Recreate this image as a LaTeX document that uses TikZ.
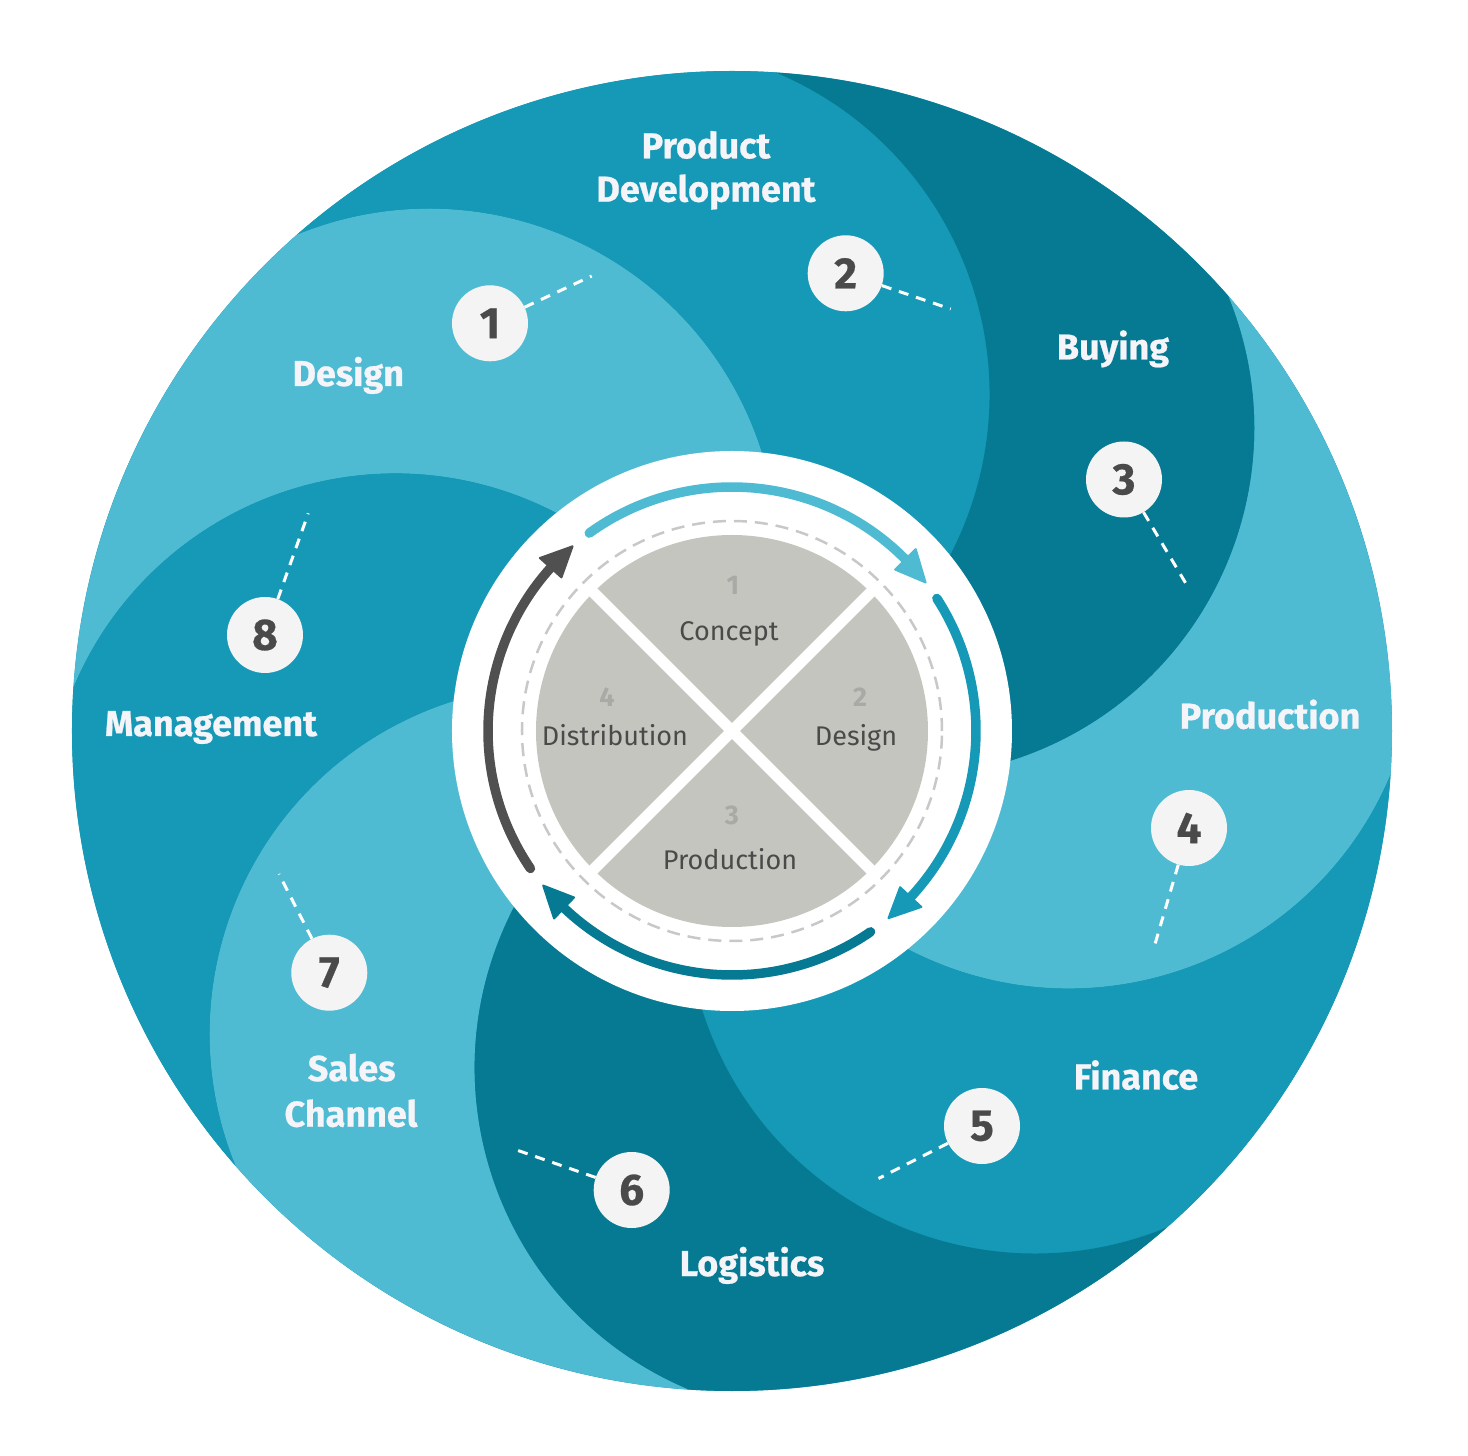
\documentclass[tikz,border=0pt]{standalone}
\usepackage{fontspec}
\setmainfont{Fira Sans}
\newfontfamily\heavyfont{Fira Sans}[BoldFeatures={FakeBold=0.6}]
\usetikzlibrary{arrows.meta}
\definecolor{cLight}{HTML}{4EBBD3}
\definecolor{cMid}{HTML}{1699B6}
\definecolor{cDark}{HTML}{067A92}
\definecolor{cGrayDisk}{HTML}{C5C5BF}
\definecolor{cDash}{HTML}{C8C8C8}
\definecolor{cText}{HTML}{4A4A4A}
\definecolor{cNum}{HTML}{A9A9A5}
\definecolor{cBadge}{HTML}{F4F4F4}
\definecolor{cArrowGray}{HTML}{505050}
\definecolor{cLabel}{HTML}{F5F4F8}
\pgfmathsetmacro\outerR{660}
\pgfmathsetmacro\swA{349}
\pgfmathsetmacro\swD{acos(\outerR/(2*\swA))}
\newcommand{\swirlpart}[2]{%
  \fill[#2] (0,0) arc[start angle={#1-180}, end angle={#1-2*\swD}, radius=\swA]
    arc[start angle={#1-\swD}, end angle={#1+45-\swD}, radius=\outerR]
    arc[start angle={#1+45-2*\swD}, end angle={#1+45-180}, radius=\swA] -- cycle;}
\begin{document}
\begin{tikzpicture}[x=1pt,y=1pt,
  outer label/.style={text=cLabel, font=\heavyfont\fontsize{36}{43}\selectfont\bfseries, anchor=base, inner sep=0pt},
  badge/.style={circle, fill=cBadge, minimum size=76pt, inner sep=0pt, text=cText, font=\heavyfont\fontsize{44}{44}\selectfont\bfseries},
  leader/.style={draw=white, line width=3pt, dash pattern=on 10pt off 8pt},
  quad text/.style={text=cText, font=\fontsize{27}{30}\selectfont, anchor=base, inner sep=0pt},
  quad num/.style={text=cNum, font=\fontsize{27}{30}\selectfont\bfseries, anchor=base, inner sep=0pt},
  ring shaft/.style={line width=9.5pt, line cap=round},
  ring head/.style={line width=2pt, line join=round}
]
\useasboundingbox (-732,-725) rectangle (736,731);
\fill[white] (-732,-725) rectangle (736,731);
% outer swirl disc
\fill[cMid] (0,0) circle[radius=\outerR];
\swirlpart{150.2}{cLight}  % Design
\swirlpart{105.2}{cMid}    % Product Development
\swirlpart{60.2}{cDark}    % Buying
\swirlpart{15.2}{cLight}   % Production
\swirlpart{-29.8}{cMid}    % Finance
\swirlpart{-74.8}{cDark}   % Logistics
\swirlpart{-119.8}{cLight} % Sales Channel
\swirlpart{-164.8}{cMid}   % Management
% inner white disc
\fill[white] (0,0) circle[radius=280];
% ring arrows (clockwise)
\foreach \st/\tp/\c in {125.8/37.5/cLight, 32.9/-50.1/cMid, -55.4/-140.7/cDark, -145.7/-229.2/cArrowGray}{
  \draw[ring shaft, draw=\c] ({\st}:244) arc[start angle={\st}, end angle={\tp+6}, radius=244];
  \filldraw[ring head, draw=\c, fill=\c] ({\tp}:244) -- ({\tp+7.2}:258.5) -- ({\tp+7.2}:229.5) -- cycle;
}
% dashed circle and grey disc
\draw[cDash, line width=2.5pt, dash pattern=on 13pt off 8pt] (0,0) circle[radius=210];
\fill[cGrayDisk] (0,0) circle[radius=196];
\draw[white, line width=11pt] (45:200) -- (225:200);
\draw[white, line width=11pt] (135:200) -- (-45:200);
% quadrant texts
\node[quad num]  (q1n) at (1,136) {1};
\node[quad text] (q1t) at (-3,90.7) {Concept};
\node[quad num]  (q2n) at (128,24.4) {2};
\node[quad text] (q2t) at (124,-14.5) {Design};
\node[quad num]  (q3n) at (0,-93.8) {3};
\node[quad text] (q3t) at (-2,-138.8) {Production};
\node[quad num]  (q4n) at (-125,24.4) {4};
\node[quad text] (q4t) at (-117,-14.5) {Distribution};
% badges
\node[badge] (b1) at (-242,407.7) {1};
\node[badge] (b2) at (113.7,457.7) {2};
\node[badge] (b3) at (392,251.5) {3};
\node[badge] (b4) at (457,-97) {4};
\node[badge] (b5) at (250,-395) {5};
\node[badge] (b6) at (-100.3,-459) {6};
\node[badge] (b7) at (-402.7,-241.7) {7};
\node[badge] (b8) at (-467,96) {8};
% leader ends
\coordinate (e1) at (-140.3,455);
\coordinate (e2) at (218.7,422);
\coordinate (e3) at (456,144);
\coordinate (e4) at (421,-220);
\coordinate (e5) at (146.5,-447.5);
\coordinate (e6) at (-220.3,-417.3);
\coordinate (e7) at (-453,-143);
\coordinate (e8) at (-423.7,217.7);
\foreach \i in {1,...,8}{\draw[leader] (b\i) -- (e\i);}
% outer labels
\node[outer label] (lpd1) at (-26,572.7) {Product};
\node[outer label] (lpd2) at (-26,529.3) {Development};
\node[outer label] (lbuy) at (381,371.5) {Buying};
\node[outer label] (lprod) at (538,2.3) {Production};
\node[outer label] (ldes) at (-383.7,345) {Design};
\node[outer label] (lman) at (-521,-5) {Management};
\node[outer label] (lfin) at (404,-358.4) {Finance};
\node[outer label] (llog) at (20,-545) {Logistics};
\node[outer label] (lsal1) at (-380.3,-350) {Sales};
\node[outer label] (lsal2) at (-381,-395.7) {Channel};
\end{tikzpicture}
\end{document}
